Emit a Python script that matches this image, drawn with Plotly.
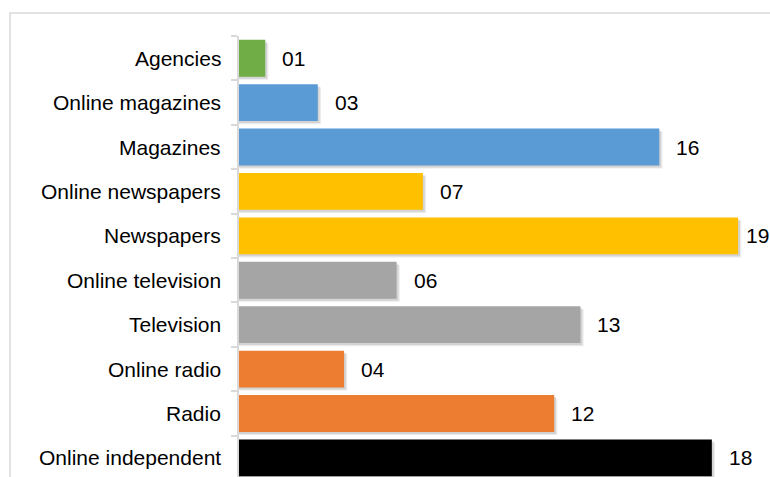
import plotly.graph_objects as go

# Media outlets and their counts
categories = [
    "Agencies", "Online magazines", "Magazines", "Online newspapers",
    "Newspapers", "Online television", "Television", "Online radio",
    "Radio", "Online independent",
]
counts = [1, 3, 16, 7, 19, 6, 13, 4, 12, 18]
value_labels = ["01", "03", "16", "07", "19", "06", "13", "04", "12", "18"]
bar_colors = [
    "#70ad47", "#5b9bd5", "#5b9bd5", "#ffc000", "#ffc000",
    "#a5a5a5", "#a5a5a5", "#ed7d31", "#ed7d31", "#000000",
]

W, H = 770, 477
ML, MR, MT, MB = 239, 3, 36, 0
plot_w = W - ML - MR
plot_h = H - MT - MB
FONT = "Liberation Sans, Arial, sans-serif"
X_MAX = 20.1

fig = go.Figure()

# soft drop shadow beneath each bar
for dx, dy, alpha in [(0.12, 0.07, 0.08), (0.07, 0.045, 0.10)]:
    fig.add_trace(go.Bar(
        x=[c + dx for c in counts], y=list(range(len(categories))),
        orientation="h", width=0.83, offset=-0.415 + dy,
        marker=dict(color=f"rgba(0,0,0,{alpha})", line=dict(width=0)),
        hoverinfo="skip", showlegend=False,
    ))

fig.add_trace(go.Bar(
    x=counts, y=list(range(len(categories))), orientation="h",
    width=0.83, offset=-0.415,
    marker=dict(color=bar_colors, line=dict(width=0)),
    showlegend=False,
))

# value labels to the right of the bars (tighter gap where the label
# would otherwise run off the right edge)
for i, (c, lab) in enumerate(zip(counts, value_labels)):
    room = (X_MAX - c) / X_MAX * plot_w + MR - 26
    fig.add_annotation(
        x=c, y=i, text=lab, showarrow=False, xanchor="left", yanchor="middle",
        xshift=max(6, min(15, room)), font=dict(family=FONT, size=21, color="#000000"),
    )

# category names left of the axis
for i, name in enumerate(categories):
    fig.add_annotation(
        x=0, y=i, xref="x", yref="y", text=name, showarrow=False,
        xanchor="right", yanchor="middle", xshift=-16,
        font=dict(family=FONT, size=21, color="#000000"),
    )

# light outer frame around the chart
fx0 = (10 - ML) / plot_w
fy1 = 1 + (MT - 13) / plot_h
fig.add_shape(
    type="rect", xref="paper", yref="paper",
    x0=fx0, x1=1.2, y0=-0.2, y1=fy1,
    line=dict(color="#d9d9d9", width=1.5), fillcolor="rgba(0,0,0,0)", layer="below",
)

fig.update_layout(
    width=W, height=H,
    margin=dict(l=ML, r=MR, t=MT, b=MB, pad=0),
    paper_bgcolor="white", plot_bgcolor="white",
    barmode="overlay",
    xaxis=dict(range=[0, X_MAX], visible=False, fixedrange=True),
    yaxis=dict(
        range=[9.43, -0.5],
        # tick marks sit on the category boundaries
        tickmode="array",
        tickvals=[i - 0.5 for i in range(len(categories) + 1)],
        ticktext=[""] * (len(categories) + 1),
        showline=True, linecolor="#d9d9d9", linewidth=1.5,
        ticks="outside", ticklen=6, tickcolor="#d9d9d9", tickwidth=1.5,
        showgrid=False, zeroline=False,
    ),
)

fig.write_html("out.html")
